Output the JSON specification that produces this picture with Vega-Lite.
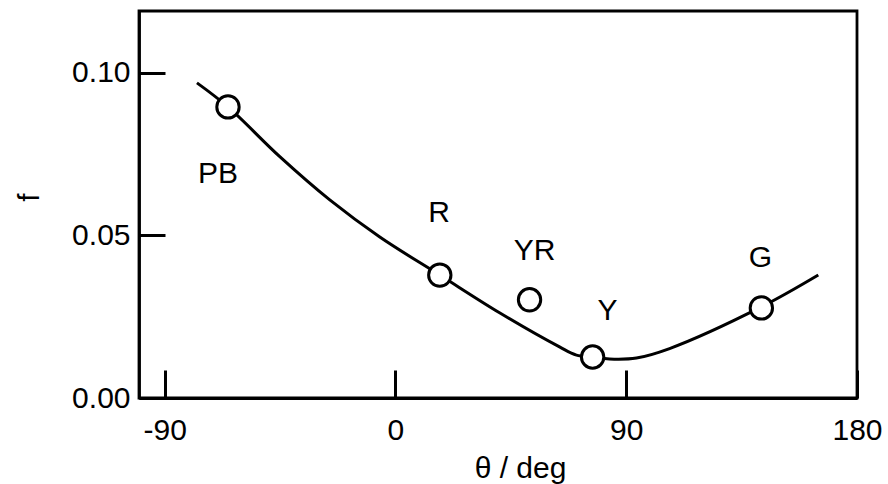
{
  "$schema": "https://vega.github.io/schema/vega-lite/v6.json",
  "width": 718,
  "height": 387,
  "autosize": "none",
  "padding": {"left": 139, "top": 11, "right": 31, "bottom": 86},
  "background": "white",
  "config": {
    "view": {"stroke": "black", "strokeWidth": 2.8},
    "font": "Liberation Sans"
  },
  "datasets": {
    "curve": [
      {"theta": -77.4, "f": 0.0969},
      {"theta": -65.3, "f": 0.0895},
      {"theta": -45.1, "f": 0.0742},
      {"theta": -25.6, "f": 0.0609},
      {"theta": -6.1, "f": 0.0495},
      {"theta": 17.3, "f": 0.0378},
      {"theta": 40.6, "f": 0.0262},
      {"theta": 64.0, "f": 0.0157},
      {"theta": 70.6, "f": 0.0132},
      {"theta": 76.9, "f": 0.0126},
      {"theta": 83.5, "f": 0.0120},
      {"theta": 94.0, "f": 0.0123},
      {"theta": 106.9, "f": 0.0152},
      {"theta": 142.7, "f": 0.0280},
      {"theta": 164.9, "f": 0.0378}
    ],
    "points": [
      {"name": "PB", "theta": -65.3, "f": 0.0895},
      {"name": "R", "theta": 17.3, "f": 0.0378},
      {"name": "YR", "theta": 52.3, "f": 0.0302},
      {"name": "Y", "theta": 76.9, "f": 0.0126},
      {"name": "G", "theta": 142.7, "f": 0.0277}
    ],
    "labels": [
      {"name": "PB", "theta": -69.2, "f": 0.0689},
      {"name": "R", "theta": 17.0, "f": 0.0569},
      {"name": "YR", "theta": 54.3, "f": 0.0452},
      {"name": "Y", "theta": 82.7, "f": 0.0268},
      {"name": "G", "theta": 142.3, "f": 0.0431}
    ]
  },
  "layer": [
    {
      "data": {"name": "curve"},
      "mark": {"type": "line", "interpolate": "catmull-rom", "color": "black", "strokeWidth": 3},
      "encoding": {
        "x": {
          "field": "theta", "type": "quantitative",
          "scale": {"domain": [-100, 180], "nice": false, "zero": false},
          "axis": {
            "title": "θ / deg",
            "values": [-90, 0, 90, 180],
            "labelExpr": "'' + datum.value",
            "tickSize": -28, "tickWidth": 3, "tickColor": "black",
            "domainColor": "black", "domainWidth": 2.8,
            "labelFontSize": 30, "labelFont": "Liberation Sans", "labelColor": "black",
            "labelPadding": 45, "labelFlush": false, "labelOverlap": false,
            "grid": false,
            "titleFontSize": 30, "titleFont": "Liberation Sans", "titleFontWeight": "normal", "titleColor": "black",
            "titleX": 381, "titleY": 79, "titleBaseline": "alphabetic", "titleAlign": "center"
          }
        },
        "y": {
          "field": "f", "type": "quantitative",
          "scale": {"domain": [0, 0.119], "nice": false},
          "axis": {
            "title": "f",
            "values": [0, 0.05, 0.1],
            "format": ".2f",
            "tickSize": -26, "tickWidth": 3, "tickColor": "black",
            "domainColor": "black", "domainWidth": 2.8,
            "labelFontSize": 30, "labelFont": "Liberation Sans", "labelColor": "black",
            "labelPadding": 35, "labelFlush": false, "labelOverlap": false,
            "grid": false,
            "titleFontSize": 30, "titleFont": "Liberation Sans", "titleFontWeight": "normal", "titleColor": "black",
            "titleX": -101, "titleY": 186, "titleBaseline": "alphabetic", "titleAlign": "center", "titleAngle": -90
          }
        }
      }
    },
    {
      "data": {"name": "points"},
      "mark": {"type": "point", "shape": "circle", "filled": true, "fill": "white", "stroke": "black", "strokeWidth": 3, "size": 500, "opacity": 1},
      "encoding": {
        "x": {"field": "theta", "type": "quantitative"},
        "y": {"field": "f", "type": "quantitative"}
      }
    },
    {
      "data": {"name": "labels"},
      "mark": {"type": "text", "fontSize": 30, "font": "Liberation Sans", "color": "black", "baseline": "middle", "align": "center"},
      "encoding": {
        "x": {"field": "theta", "type": "quantitative"},
        "y": {"field": "f", "type": "quantitative"},
        "text": {"field": "name"}
      }
    }
  ]
}
